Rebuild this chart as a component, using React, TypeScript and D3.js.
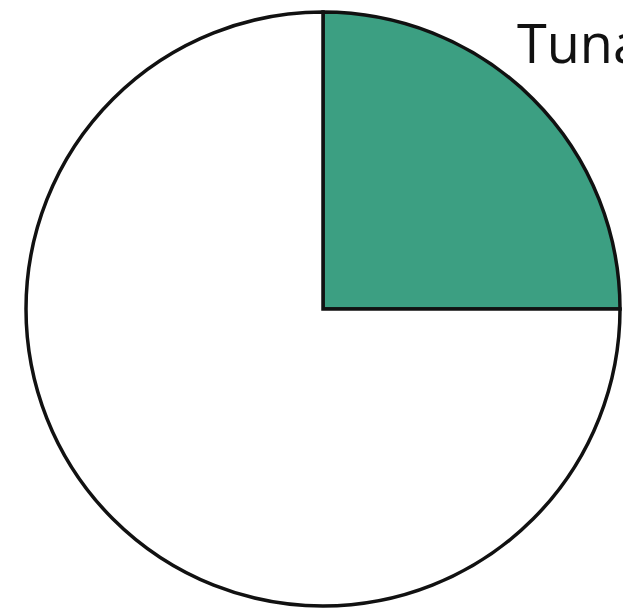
import React from "react";
import * as d3 from "d3";

// Pie slices: share of the whole, drawn clockwise from 12 o'clock
const categories: string[] = ["Tuna", "Other"];
const values: number[] = [25, 75];
const fills: string[] = ["#3c9f82", "#ffffff"];
const labels: string[] = ["Tuna", ""];

const WIDTH = 623;
const HEIGHT = 613;
const CX = 323;
const CY = 309;
const RADIUS = 297;

export default function App() {
  const pie = d3
    .pie<number>()
    .sort(null)
    .value((d) => d)
    .startAngle(0)
    .endAngle(2 * Math.PI);
  const arcs = pie(values);
  const arc = d3.arc<d3.PieArcDatum<number>>().innerRadius(0).outerRadius(RADIUS);

  return (
    <svg
      width={WIDTH}
      height={HEIGHT}
      style={{ position: "absolute", left: 0, top: 0, background: "#ffffff" }}
    >
      <g transform={`translate(${CX},${CY})`}>
        {arcs.map((a, i) => (
          <path
            key={categories[i]}
            d={arc(a) ?? ""}
            fill={fills[i]}
            stroke="#111111"
            strokeWidth={3.5}
            strokeLinejoin="miter"
          />
        ))}
      </g>
      {labels[0] && (
        <text
          x={517}
          y={63}
          fontFamily="'Open Sans', 'Liberation Sans', sans-serif"
          fontSize={54}
          fill="#111111"
        >
          {labels[0]}
        </text>
      )}
    </svg>
  );
}
